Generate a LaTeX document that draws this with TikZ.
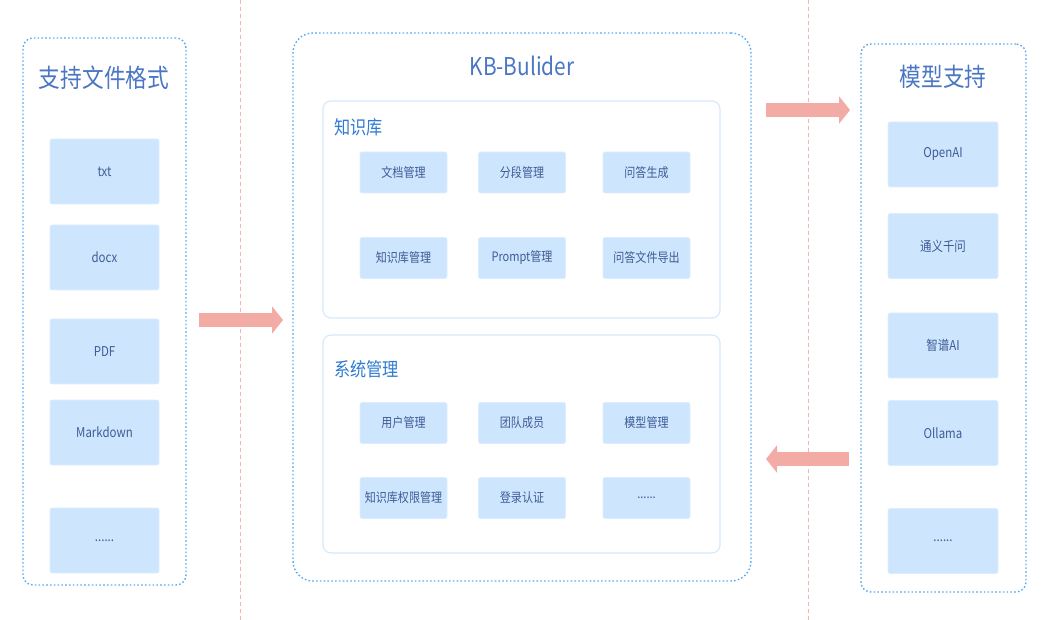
\documentclass[tikz,border=0pt]{standalone}
\usepackage{fontspec}
\setmainfont{Noto Sans CJK SC}[FakeStretch=0.85]
\usepackage{tikz}
\usetikzlibrary{arrows.meta,positioning,calc}
\definecolor{frameblue}{HTML}{5AAAF0}
\definecolor{boxfill}{HTML}{CDE6FE}
\definecolor{boxline}{HTML}{DCEDFF}
\definecolor{boxtext}{HTML}{3F5B96}
\definecolor{titleblue}{HTML}{4A76C4}
\definecolor{labelblue}{HTML}{2F7BD0}
\definecolor{panelline}{HTML}{D5E9FB}
\definecolor{arrowred}{HTML}{F3ABA6}
\definecolor{sepred}{HTML}{F5B5B5}
\tikzstyle{frame}=[draw=frameblue,line width=1.4pt,dash pattern=on 1.6pt off 2.2pt,rounded corners=10pt,inner sep=0pt]
\tikzstyle{panel}=[draw=panelline,line width=1.2pt,rounded corners=8pt,inner sep=0pt]
\tikzstyle{item}=[fill=boxfill,draw=boxline,line width=0.6pt,rounded corners=2pt,text=boxtext,inner sep=0pt,font=\fontsize{13.5}{15}\selectfont]
\tikzstyle{side}=[item,minimum width=109pt,minimum height=65pt]
\tikzstyle{module}=[item,font=\fontsize{13}{15}\selectfont,minimum width=87pt,minimum height=41pt]
\tikzstyle{title}=[text=titleblue,font=\fontsize{25.5}{28}\selectfont]
\tikzstyle{label}=[text=labelblue,anchor=west,inner sep=0pt,font=\fontsize{19}{22}\selectfont]
\tikzstyle{fatarrow}=[draw=arrowred,line width=14pt,-{Triangle[length=11pt,width=27pt]}]
\tikzstyle{sepline}=[draw=sepred,line width=0.8pt,dash pattern=on 4pt off 3pt]

\begin{document}
\begin{tikzpicture}[x=1pt,y=-1pt]
      \useasboundingbox (0,0) rectangle (1050,620);
      % separators
      \coordinate (s1t) at (240,0);
      \coordinate (s1b) at (240,620);
      \coordinate (s2t) at (808,0);
      \coordinate (s2b) at (808,620);
      \draw[sepline] (s1t) -- (s1b);
      \draw[sepline] (s2t) -- (s2b);
      % file formats
      \node[frame,minimum width=163pt,minimum height=547pt] at (104.5,311.5) (formats) {};
      \node[title] at (104,78) (formatstitle) {支持文件格式};
      \node[side] at (104.5,171.5) (txt) {txt};
      \node[side] at (104.5,257.5) (docx) {docx};
      \node[side] at (104.5,351.5) (pdf) {PDF};
      \node[side] at (104.5,432.5) (md) {Markdown};
      \node[side] at (104.5,540.5) (fmore) {......};
      % kb-builder
      \node[frame,rounded corners=20pt,minimum width=458pt,minimum height=548pt] at (522,307) (kb) {};
      \node[title,font=\fontsize{24.5}{27}\selectfont] at (522,66) (kbtitle) {KB-Bulider};
      \node[panel,minimum width=397pt,minimum height=217pt] at (521.5,209.5) (kbase) {};
      \node[label] at (334,127) (kbaselabel) {知识库};
      \node[module] at (403.5,172.5) (doc) {文档管理};
      \node[module] at (522,172.5) (seg) {分段管理};
      \node[module] at (646.5,172.5) (qa) {问答生成};
      \node[module] at (403.5,258) (kbm) {知识库管理};
      \node[module] at (522,258) (prompt) {Prompt管理};
      \node[module] at (646.5,258) (qaexp) {问答文件导出};
      \node[panel,minimum width=397pt,minimum height=218pt] at (521.5,444) (sys) {};
      \node[label] at (334,369) (syslabel) {系统管理};
      \node[module] at (403.5,423) (user) {用户管理};
      \node[module] at (522,423) (team) {团队成员};
      \node[module] at (646.5,423) (model) {模型管理};
      \node[module] at (403.5,498) (perm) {知识库权限管理};
      \node[module] at (522,498) (login) {登录认证};
      \node[module] at (646.5,498) (smore) {......};
      % models
      \node[frame,minimum width=165pt,minimum height=548pt] at (943.5,318) (models) {};
      \node[title] at (943,77) (modelstitle) {模型支持};
      \node[side,minimum width=110pt] at (943,154.5) (openai) {OpenAI};
      \node[side,minimum width=110pt] at (943,246) (qwen) {通义千问};
      \node[side,minimum width=110pt] at (943,345.5) (glm) {智谱AI};
      \node[side,minimum width=110pt] at (943,433) (ollama) {Ollama};
      \node[side,minimum width=110pt] at (943,541) (mmore) {......};
      % arrows
      \coordinate (a1s) at (199,320);
      \coordinate (a1e) at (283,320);
      \coordinate (a2s) at (766,110);
      \coordinate (a2e) at (850,110);
      \coordinate (a3s) at (849,459);
      \coordinate (a3e) at (766,459);
      \draw[fatarrow] (a1s) -- (a1e);
      \draw[fatarrow] (a2s) -- (a2e);
      \draw[fatarrow] (a3s) -- (a3e);
\end{tikzpicture}
\end{document}
